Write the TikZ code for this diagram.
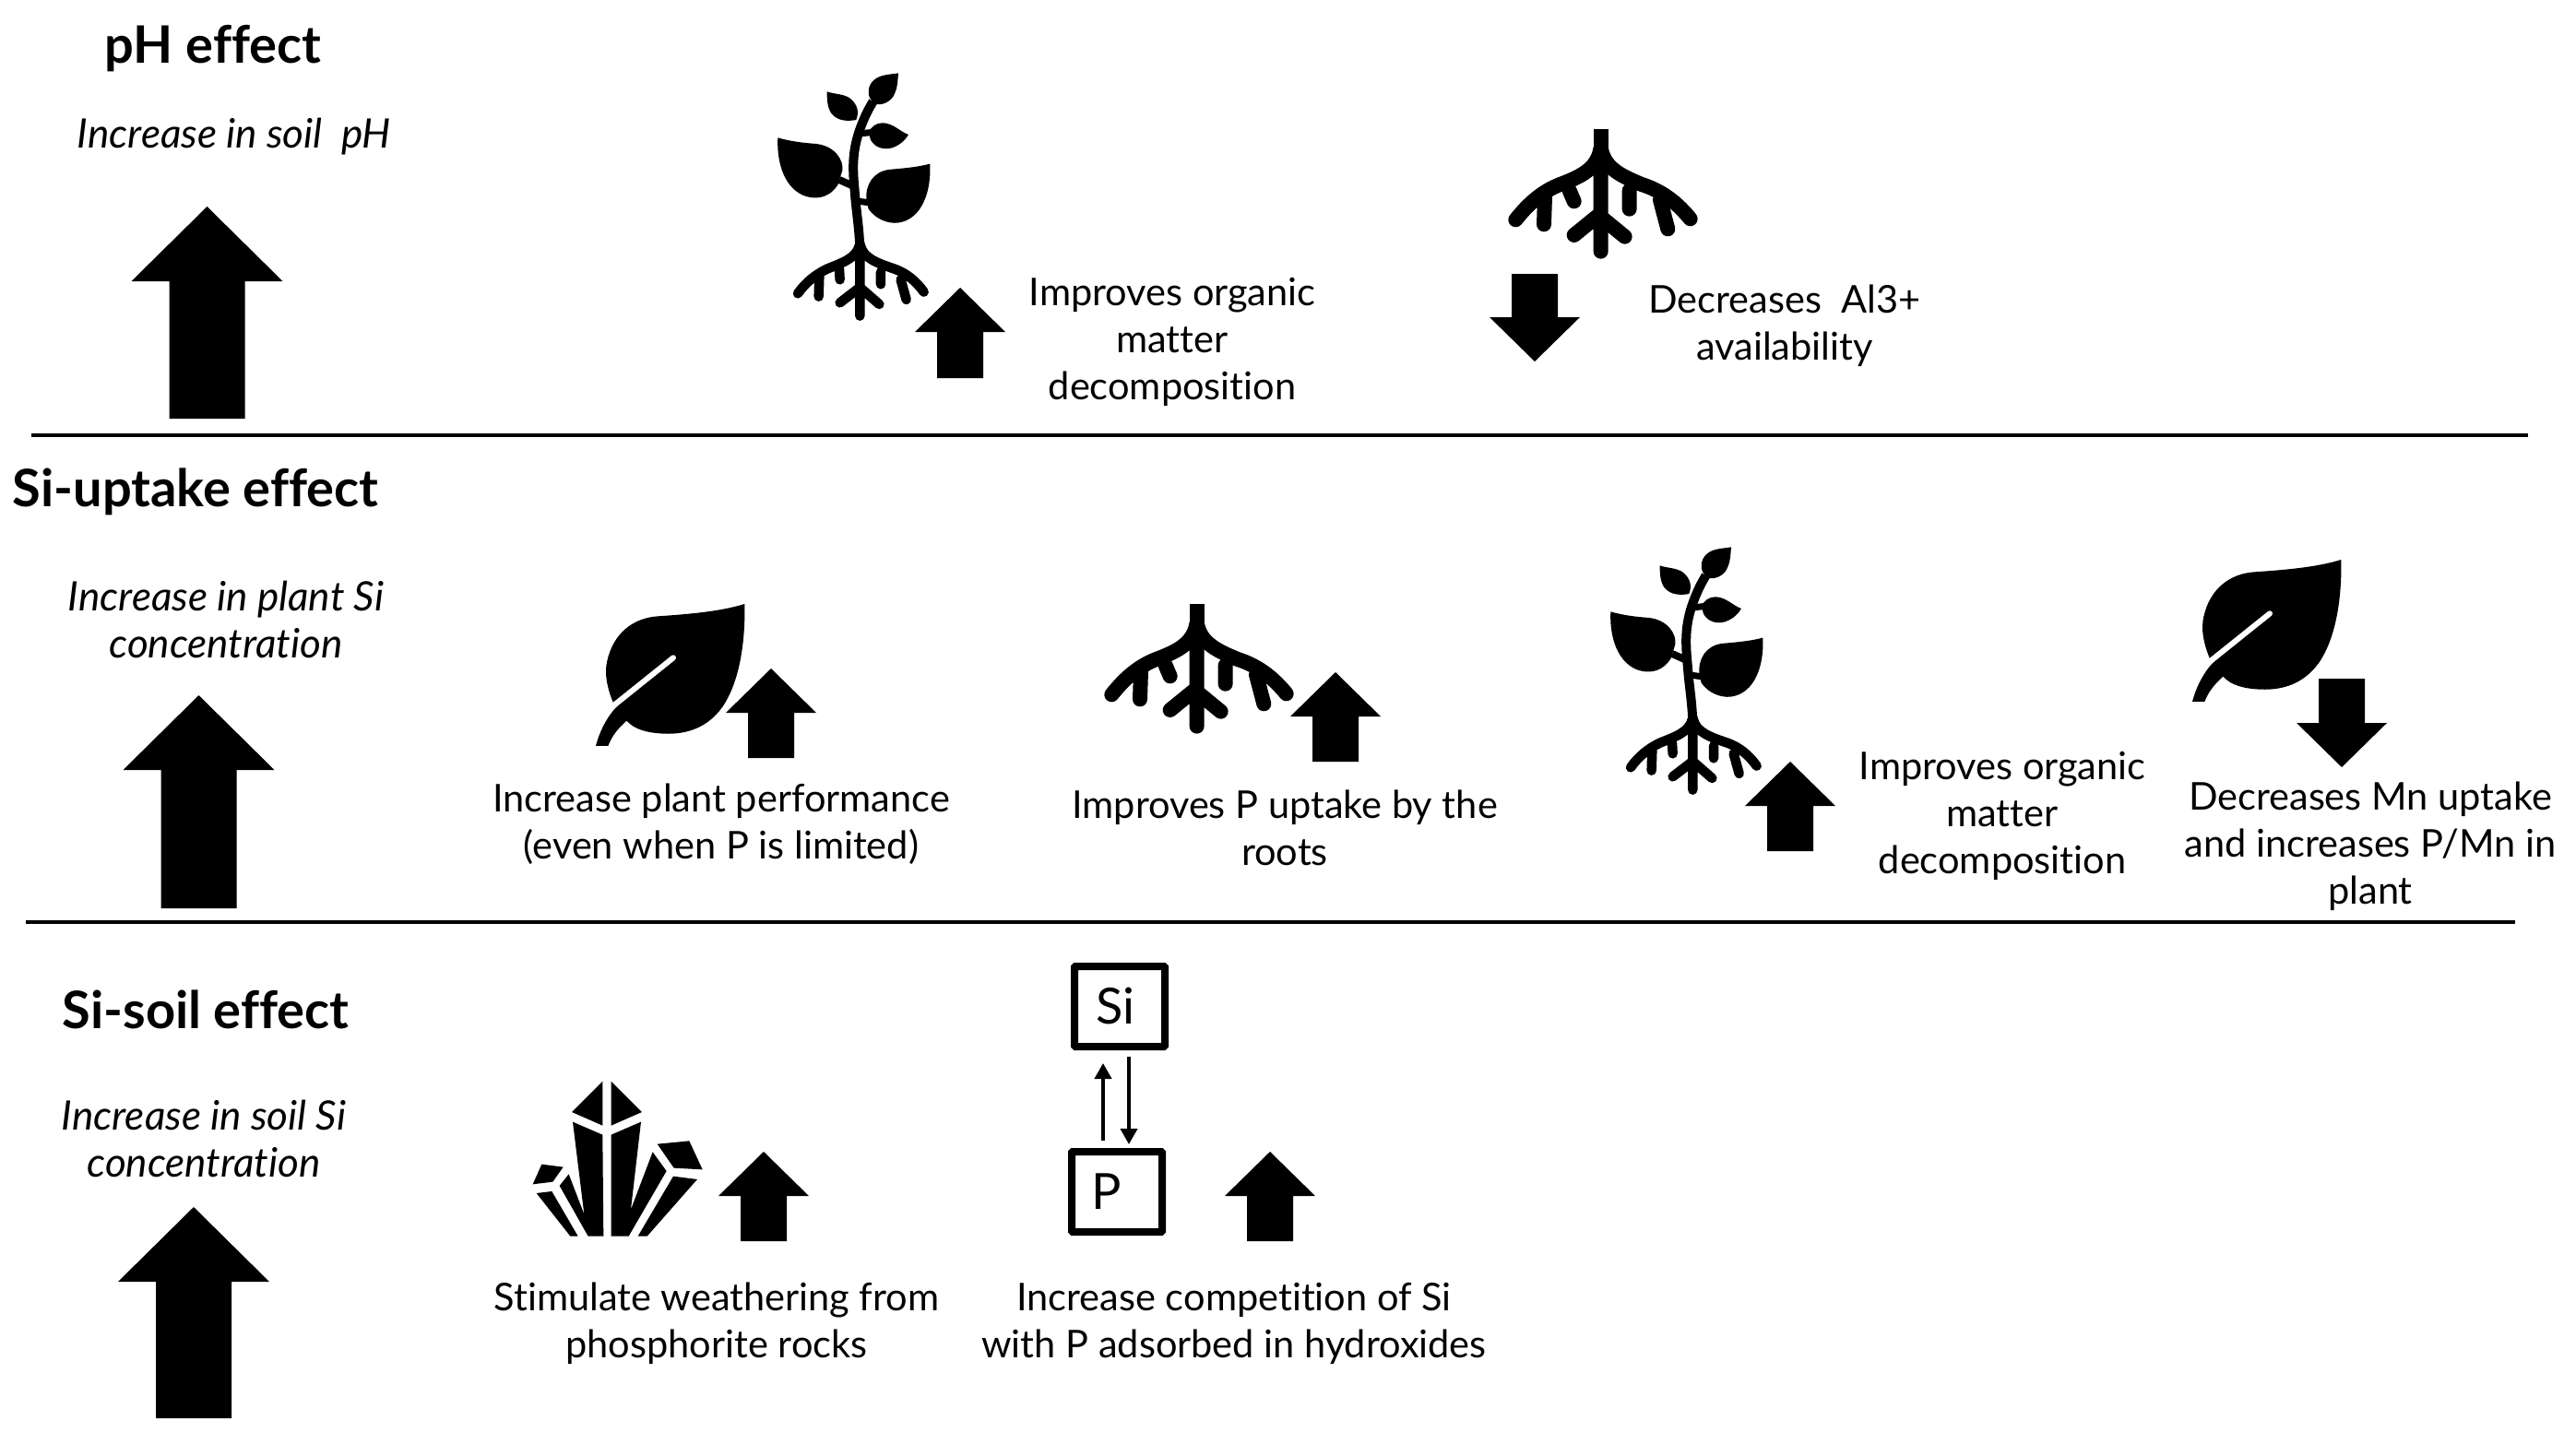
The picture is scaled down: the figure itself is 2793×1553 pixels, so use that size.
\documentclass[tikz,border=0pt]{standalone}
\usepackage{fontspec}
\setmainfont{Lato}[Ligatures={NoCommon}]
\usetikzlibrary{arrows.meta}
\tikzset{
 x=1pt,y=-1pt,
 body/.style={font=\fontsize{41.5}{51}\selectfont,align=center,inner sep=0pt,text=black},
 ital/.style={font=\fontsize{44}{51}\selectfont\itshape,align=center,inner sep=0pt,text=black},
 head/.style={font=\fontsize{56}{60}\selectfont\bfseries,inner sep=0pt,text=black},
 rule/.style={line width=3.6pt,draw=black},
 box/.style={draw=black,line width=8pt,rounded corners=1pt,minimum width=98pt,minimum height=87pt,inner sep=0pt,font=\fontsize{54}{56}\selectfont},
 flow/.style={line width=4pt,-{Triangle[length=17pt,width=18pt]}},
}
% cx tip bottom headhalf shafthalf headbase
\newcommand{\blockarrow}[6]{\fill[black] (#1,#2)--(#1+#4,#6)--(#1+#5,#6)--(#1+#5,#3)--(#1-#5,#3)--(#1-#5,#6)--(#1-#4,#6)--cycle;}
\newcommand{\plantrootsB}{%
 \draw[line width=10.5pt,line cap=round,line join=round,black]
  (397,640)--(397,878) (332,835)--(397,785)--(460,840)
  (395,650) .. controls (385,690) and (340,705) .. (290,725) .. controls (250,745) and (220,770) .. (195,805)
  (265,750)--(263,815) (330,725)--(332,760)
  (399,650) .. controls (410,690) and (450,705) .. (510,725) .. controls (550,740) and (580,765) .. (605,800)
  (465,735)--(465,775) (530,760)--(548,825);}
\newcommand{\plantshape}[2]{\begin{scope}[shift={(#1,#2)},x=0.3333pt,y=-0.3333pt]
 \fill[black] (130,298) .. controls (170,310) and (215,315) .. (255,318) .. controls (315,325) and (345,370) .. (340,405) -- (325,452) .. controls (300,490) and (265,497) .. (235,492) .. controls (165,480) and (125,400) .. (130,298) -- cycle;
 \fill[black] (625,383) .. controls (580,395) and (530,398) .. (490,402) .. controls (440,410) and (415,450) .. (418,500) -- (425,530) .. controls (450,565) and (490,578) .. (520,575) .. controls (600,565) and (630,470) .. (625,383) -- cycle;
 \fill[black] (522,88) .. controls (500,92) and (470,92) .. (450,105) .. controls (425,120) and (420,150) .. (430,170) -- (445,188) .. controls (470,195) and (500,180) .. (510,155) .. controls (520,135) and (520,110) .. (522,88) -- cycle;
 \fill[black] (290,148) .. controls (315,157) and (345,155) .. (365,170) .. controls (390,190) and (395,215) .. (385,240) .. controls (360,245) and (325,245) .. (305,220) .. controls (290,200) and (290,170) .. (290,148) -- cycle;
 \fill[black] (555,288) .. controls (530,280) and (505,250) .. (470,250) .. controls (450,250) and (435,262) .. (425,280) -- (432,305) .. controls (445,330) and (475,340) .. (505,330) .. controls (530,320) and (545,305) .. (555,288) -- cycle;
 \draw[line width=10pt,black] (397,660) .. controls (395,590) and (385,540) .. (380,470) .. controls (372,390) and (372,330) .. (405,250) .. controls (415,225) and (425,205) .. (440,180);
 \draw[line width=8pt,black] (330,435)--(375,455);
 \draw[line width=7pt,black] (395,285)--(440,280);
 \draw[line width=7pt,black] (395,505)--(430,510);
 \plantrootsB
\end{scope}}
\newcommand{\rootshape}[2]{\begin{scope}[shift={(#1,#2)},x=0.3333pt,y=-0.3333pt]
 \draw[line width=16pt,black] (407,60)--(407,200);
 \draw[line width=16pt,line cap=round,line join=round,black]
  (407,200)--(407,458) (320,405)--(400,340)--(485,410)
  (406,125) .. controls (395,190) and (340,215) .. (280,238) .. controls (215,262) and (170,305) .. (130,355)
  (225,280)--(222,370) (305,260)--(320,295)
  (408,125) .. controls (420,190) and (480,215) .. (540,240) .. controls (610,262) and (660,305) .. (698,352)
  (500,260)--(500,320) (600,290)--(625,385);
\end{scope}}
\newcommand{\leafshape}[2]{\begin{scope}[shift={(#1,#2)},x=0.3333pt,y=-0.3333pt]
 \fill[black] (135,397) .. controls (115,350) and (105,300) .. (115,260) .. controls (135,170) and (200,120) .. (280,115) .. controls (380,108) and (480,100) .. (562,75) .. controls (565,200) and (545,330) .. (490,410) .. controls (440,480) and (370,500) .. (300,497) .. controls (250,495) and (205,485) .. (178,455) .. controls (150,480) and (130,505) .. (118,537) -- (78,537) .. controls (90,490) and (115,440) .. (150,405) -- cycle;
 \draw[white,line width=6pt,line cap=round] (128,412)--(330,250);
\end{scope}}
\newcommand{\crystalshape}[2]{\begin{scope}[shift={(#1,#2)},x=0.3333pt,y=-0.3333pt]
 \fill[black] (280,68)--(180,168)--(280,212)--cycle;
 \fill[black] (308,68)--(408,168)--(308,212)--cycle;
 \fill[black] (183,200)--(280,242)--(283,572)--(233,572)--(140,408)--(170,370)--(220,500)--cycle;
 \fill[black] (405,200)--(308,242)--(308,572)--(365,572)--(488,360)--(443,298)--(372,485)--cycle;
 \fill[black] (82,338)--(152,347)--(118,395)--(53,403)--cycle;
 \fill[black] (65,432)--(115,426)--(200,572)--(175,572)--cycle;
 \fill[black] (458,272)--(562,262)--(605,355)--(512,350)--cycle;
 \fill[black] (510,377)--(588,387)--(425,572)--(395,572)--cycle;
\end{scope}}
\begin{document}
\begin{tikzpicture}
\useasboundingbox[fill=white] (0,0) rectangle (2793,1553);
% rules
\coordinate (r1a) at (34,472); \coordinate (r1b) at (2741,472);
\coordinate (r2a) at (28,1000); \coordinate (r2b) at (2727,1000);
\draw[rule] (r1a)--(r1b);
\draw[rule] (r2a)--(r2b);
% headings
\node[head] (h1) at (231,53) {pH effect};
\node[head] (h2) at (212,533) {Si-uptake effect};
\node[head] (h3) at (223,1095) {Si-soil effect};
\node[ital] (i1) at (254,148) {Increase in soil\ \ pH};
\node[ital] (i2) at (245,672) {Increase in plant Si\\concentration};
\node[ital] (i3) at (221,1235) {Increase in soil Si\\concentration};
% large arrows
\blockarrow{224.5}{224}{454}{82}{41}{305}
\blockarrow{215.5}{754}{985}{82}{41}{835}
\blockarrow{210}{1309}{1538}{82}{41}{1390}
% small arrows
\blockarrow{1041}{312}{410}{49}{25}{360}
\blockarrow{836}{725}{822}{49}{25}{773}
\blockarrow{1448}{729}{826}{49}{25}{777}
\blockarrow{1941}{826}{923}{49}{25}{874}
\blockarrow{828}{1249}{1346}{49}{25}{1297}
\blockarrow{1377}{1249}{1346}{49}{25}{1297}
\blockarrow{1664}{392}{297}{49}{25}{344}
\blockarrow{2539}{832}{736}{49}{25}{784}
% icons
\plantshape{800}{50}
\plantshape{1703}{564}
\rootshape{1600}{120}
\rootshape{1162}{635}
\leafshape{620}{630}
\leafshape{2351}{582}
\crystalshape{560}{1150}
% text
\node[body] (t1) at (1271,371) {Improves organic\\matter\\decomposition};
\node[body] (t2) at (1935,353) {Decreases\ \ Al3+\\availability};
\node[body] (t3) at (782,894) {Increase plant performance\\(even when P is limited)};
\node[body] (t4) at (1393,898) {Improves P uptake by the\\roots};
\node[body] (t5) at (2171,885) {Improves organic\\matter\\decomposition};
\node[body] (t6) at (2570,918) {Decreases Mn uptake\\and increases P/Mn in\\plant};
\node[body] (t7) at (777,1435) {Stimulate weathering from\\phosphorite rocks};
\node[body] (t8) at (1338,1435) {Increase competition of Si\\with P adsorbed in hydroxides};
% Si / P
\node[box] (si) at (1214,1091.5) {Si\kern10pt\relax};
\node[box] (p) at (1211,1292.5) {P\kern22pt\relax};
\draw[flow] ([xshift=-15pt,yshift=8pt]p.north) -- ([xshift=-18pt,yshift=-14pt]si.south);
\draw[flow] ([xshift=10pt,yshift=-7pt]si.south) -- ([xshift=13pt,yshift=4pt]p.north);
\end{tikzpicture}
\end{document}
